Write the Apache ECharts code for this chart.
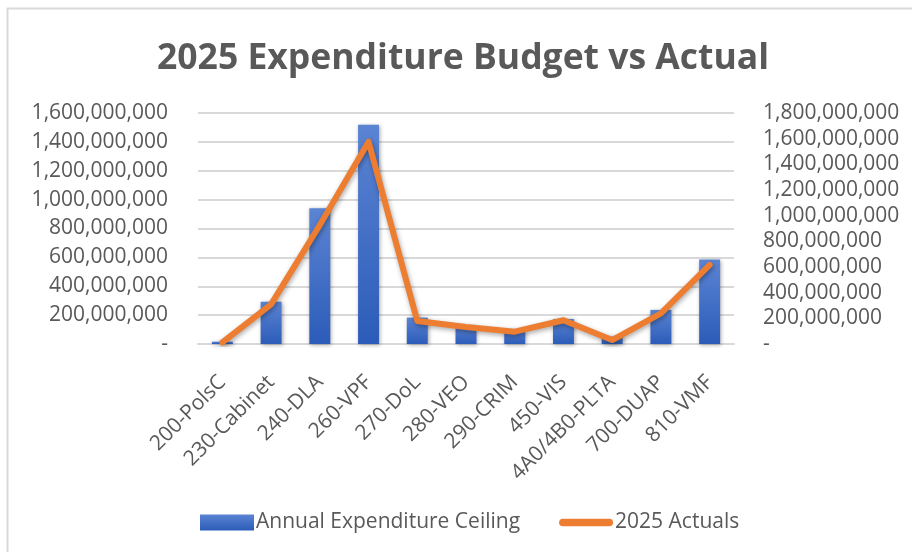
<!DOCTYPE html>
<html>
<head>
<meta charset="utf-8">
<script src="https://cdn.jsdelivr.net/npm/echarts@6/dist/echarts.min.js"></script>
<style>
  html, body { margin: 0; padding: 0; background: #fff; }
  #chart { width: 912px; height: 552px; }
</style>
</head>
<body>
<div id="chart"></div>
<script>
// Budget units (cost centres)
const units = ['200-PolsC', '230-Cabinet', '240-DLA', '260-VPF', '270-DoL', '280-VEO',
  '290-CRIM', '450-VIS', '4A0/4B0-PLTA', '700-DUAP', '810-VMF'];

// Annual expenditure ceiling (left axis)
const ceiling = [16000000, 293000000, 941000000, 1518000000, 183000000, 128000000,
  97000000, 173000000, 51000000, 236000000, 585000000];

// 2025 actual spending (right axis)
const actuals = [12000000, 309000000, 927000000, 1576000000, 179000000, 132000000,
  96000000, 185000000, 31000000, 239000000, 616000000];

const leftMax = 1600000000;
const rightMax = 1800000000;
const step = 200000000;

const FONT = 'Open Sans';
const GREY = '#595959';

function fmt(v) {
  if (v === 0) return '-';
  return v.toLocaleString('en-US');
}

const chart = echarts.init(document.getElementById('chart'), null, { renderer: 'canvas' });

const barGradient = new echarts.graphic.LinearGradient(0, 0, 0, 1, [
  { offset: 0, color: '#5b84d3' },
  { offset: 1, color: '#2c5cb9' }
]);

// thick rounded stroke used as the legend marker of the line series
const lineIcon = 'path://M4,0 L53,0 A4,4 0 0 1 53,8 L4,8 A4,4 0 0 1 4,0 Z';

chart.setOption({
  backgroundColor: '#ffffff',
  animation: false,
  title: {
    text: '2025 Expenditure Budget vs Actual',
    left: 152,
    top: 36,
    textStyle: { fontFamily: FONT, fontSize: 35.5, fontWeight: 'bold', color: GREY }
  },
  graphic: [{
    type: 'rect',
    shape: { x: 7.5, y: 8.5, width: 920, height: 560 },
    style: { fill: 'none', stroke: '#d9d9d9', lineWidth: 2 },
    z: -1
  }],
  legend: {
    bottom: 14,
    left: 195,
    itemGap: 39,
    itemWidth: 54,
    itemHeight: 16,
    textStyle: { fontFamily: FONT, fontSize: 21, color: GREY, padding: [0, 0, 0, -3] },
    data: [
      { name: 'Annual Expenditure Ceiling', icon: 'rect' },
      { name: '2025 Actuals', icon: lineIcon }
    ]
  },
  grid: { left: 198, right: 178, top: 113, bottom: 208, containLabel: false },
  xAxis: {
    type: 'category',
    data: units,
    axisLine: { lineStyle: { color: '#d9d9d9', width: 2 } },
    axisTick: { show: false },
    axisLabel: {
      rotate: 45,
      interval: 0,
      margin: 35,
      fontFamily: FONT,
      fontSize: 21,
      color: GREY
    }
  },
  yAxis: [{
    type: 'value',
    min: 0,
    max: leftMax,
    interval: step,
    axisLine: { show: false },
    axisTick: { show: false },
    splitLine: { lineStyle: { color: '#d9d9d9', width: 2 } },
    axisLabel: { formatter: fmt, fontFamily: FONT, fontSize: 21, color: GREY, margin: 30 }
  }, {
    type: 'value',
    min: 0,
    max: rightMax,
    interval: step,
    axisLine: { show: false },
    axisTick: { show: false },
    splitLine: { show: false },
    axisLabel: { formatter: fmt, fontFamily: FONT, fontSize: 21, color: GREY, margin: 29 }
  }],
  series: [{
    name: 'Annual Expenditure Ceiling',
    type: 'bar',
    yAxisIndex: 0,
    data: ceiling,
    barWidth: '43%',
    itemStyle: {
      color: barGradient,
      shadowColor: 'rgba(0,0,0,0.35)',
      shadowBlur: 4,
      shadowOffsetX: 1,
      shadowOffsetY: 1
    }
  }, {
    name: '2025 Actuals',
    type: 'line',
    yAxisIndex: 1,
    data: actuals,
    symbol: 'none',
    lineStyle: {
      color: '#ed7d31',
      width: 6,
      cap: 'round',
      join: 'round',
      shadowColor: 'rgba(0,0,0,0.35)',
      shadowBlur: 5,
      shadowOffsetX: 1,
      shadowOffsetY: 2
    },
    itemStyle: { color: '#ed7d31' },
    z: 3
  }]
});
</script>
</body>
</html>
